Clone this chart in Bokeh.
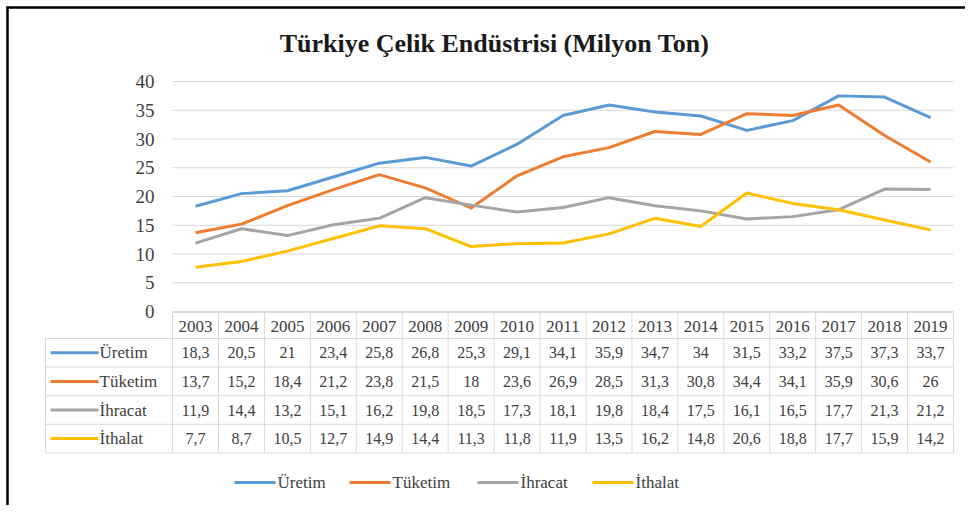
from bokeh.plotting import figure
from bokeh.models import Range1d
from bokeh.core.properties import value
from bokeh.embed import file_html
from bokeh.resources import INLINE

# ---- data ----
title = "Türkiye Çelik Endüstrisi (Milyon Ton)"
years = ["2003", "2004", "2005", "2006", "2007", "2008", "2009", "2010", "2011",
         "2012", "2013", "2014", "2015", "2016", "2017", "2018", "2019"]
series_names = ["Üretim", "Tüketim", "İhracat", "İthalat"]
uretim = [18.3, 20.5, 21, 23.4, 25.8, 26.8, 25.3, 29.1, 34.1, 35.9, 34.7, 34, 31.5, 33.2, 37.5, 37.3, 33.7]
tuketim = [13.7, 15.2, 18.4, 21.2, 23.8, 21.5, 18, 23.6, 26.9, 28.5, 31.3, 30.8, 34.4, 34.1, 35.9, 30.6, 26]
ihracat = [11.9, 14.4, 13.2, 15.1, 16.2, 19.8, 18.5, 17.3, 18.1, 19.8, 18.4, 17.5, 16.1, 16.5, 17.7, 21.3, 21.2]
ithalat = [7.7, 8.7, 10.5, 12.7, 14.9, 14.4, 11.3, 11.8, 11.9, 13.5, 16.2, 14.8, 20.6, 18.8, 17.7, 15.9, 14.2]
y_ticks = [0, 5, 10, 15, 20, 25, 30, 35, 40]

series = [uretim, tuketim, ihracat, ithalat]
colors = ["#5B9BD5", "#ED7D31", "#A5A5A5", "#FFC000"]

# ---- layout (canvas pixels -> data units) ----
W, H = 965, 505
X0, DX = 195.0, 45.94     # x of first category, px per category
Y0, DY = 311.0, 5.75      # y of value 0, px per unit


def xd(px):
    return (px - X0) / DX


def yd(py):
    return (Y0 - py) / DY


SERIF = value("Liberation Serif")
TXT = "#404040"
GRID = "#D9D9D9"

p = figure(width=W, height=H, output_backend="svg", toolbar_location=None,
           x_range=Range1d(xd(0), xd(W)), y_range=Range1d(yd(H), yd(0)),
           x_axis_location=None, y_axis_location=None, min_border=0)
p.xgrid.visible = False
p.ygrid.visible = False
p.outline_line_color = None
p.background_fill_color = "white"
p.border_fill_color = "white"

n = len(years)
idx = list(range(n))
xl, xr = -0.5, n - 0.5

# frame border (top + left)
p.segment(x0=[xd(6), xd(7)], y0=[yd(7), yd(6)], x1=[xd(W), xd(7)], y1=[yd(7), yd(H)],
          line_color="black", line_width=2.5)

# title
p.text(x=[xd(494)], y=[yd(43)], text=[title], text_font=SERIF, text_font_style="bold",
       text_font_size="26px", text_align="center", text_baseline="middle", text_color="#1a1a1a")

# gridlines and y tick labels
p.segment(x0=[xl] * len(y_ticks), x1=[xr] * len(y_ticks), y0=y_ticks, y1=y_ticks,
          line_color=GRID, line_width=1)
p.text(x=[xl] * len(y_ticks), y=y_ticks, text=[str(t) for t in y_ticks], x_offset=-18,
       text_font=SERIF, text_font_size="19px", text_align="right", text_baseline="middle",
       text_color=TXT)

# series lines
for vals, c in zip(series, colors):
    p.line(x=idx, y=vals, line_color=c, line_width=3, line_join="round")

# ---- data table ----
top, head_bot, row_h = 312.0, 338.0, 28.6
row_edges = [head_bot + row_h * k for k in range(len(series) + 1)]
tab_left = 45.0
p.segment(x0=[xl], x1=[xr], y0=[yd(top)], y1=[yd(top)], line_color=GRID, line_width=1)
p.segment(x0=[xd(tab_left)] * len(row_edges), x1=[xr] * len(row_edges),
          y0=[yd(e) for e in row_edges], y1=[yd(e) for e in row_edges],
          line_color=GRID, line_width=1)
vx = [xl + k for k in range(n + 1)]
p.segment(x0=vx, x1=vx, y0=[yd(top)] * len(vx), y1=[yd(row_edges[-1])] * len(vx),
          line_color=GRID, line_width=1)
p.segment(x0=[xd(tab_left)], x1=[xd(tab_left)], y0=[yd(head_bot)], y1=[yd(row_edges[-1])],
          line_color=GRID, line_width=1)
p.text(x=idx, y=[yd((top + head_bot) / 2 + 1)] * n, text=years, text_font=SERIF,
       text_font_size="17px", text_align="center", text_baseline="middle", text_color=TXT)
for r, (name, vals, c) in enumerate(zip(series_names, series, colors)):
    yc = yd((row_edges[r] + row_edges[r + 1]) / 2)
    p.segment(x0=[xd(50)], x1=[xd(98)], y0=[yc], y1=[yc], line_color=c, line_width=3)
    p.text(x=[xd(99)], y=[yc], text=[name], text_font=SERIF, text_font_size="17px",
           text_align="left", text_baseline="middle", text_color=TXT)
    labels = [f"{v:g}".replace(".", ",") for v in vals]
    p.text(x=idx, y=[yc] * n, text=labels, text_font=SERIF, text_font_size="16px",
           text_align="center", text_baseline="middle", text_color=TXT)

# ---- bottom legend ----
leg_y = yd(482)
leg_line_start = [234, 349, 477, 592]
for name, c, lx in zip(series_names, colors, leg_line_start):
    p.segment(x0=[xd(lx)], x1=[xd(lx + 41)], y0=[leg_y], y1=[leg_y], line_color=c, line_width=3)
    p.text(x=[xd(lx + 43)], y=[leg_y], text=[name], text_font=SERIF, text_font_size="17px",
           text_align="left", text_baseline="middle", text_color=TXT)

open("out.html", "w").write(file_html(p, INLINE))
